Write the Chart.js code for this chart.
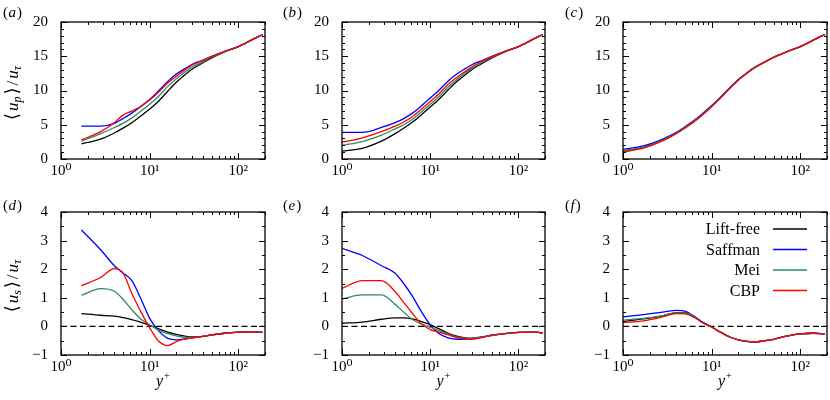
<!DOCTYPE html>
<html><head><meta charset="utf-8">
<script src="https://cdn.jsdelivr.net/npm/chart.js@4.4.1/dist/chart.umd.min.js"></script>
<style>
html,body{margin:0;padding:0;background:#fff;}
#wrap{position:relative;width:830px;height:400px;overflow:hidden;}
.p{position:absolute;}
</style></head><body><div id="wrap"></div>
<script>
// ---------- data ----------
const seriesNames = ['Lift-free', 'Saffman', 'Mei', 'CBP'];
const seriesColors = ['#000000', '#0000ff', '#2e8b57', '#ff0000'];
const yPlusA = [1.7, 2.8, 4, 5, 6.3, 8, 10, 12.5, 16, 20, 25, 30, 40, 50, 70, 100, 140, 170, 188];
const yPlusB = [1, 1.7, 2.8, 4, 5, 6.3, 8, 10, 12.5, 16, 20, 25, 30, 40, 50, 70, 100, 140, 170, 188];
const xTickValues = [1, 10, 100];
const xTickLabels = ['10⁰', '10¹', '10²'];
const upTickValues = [0, 5, 10, 15, 20];
const usTickValues = [-1, 0, 1, 2, 3, 4];
const zeroLine = [0, 0];
const zeroLineX = [1, 200];

// (a) <u_p>/u_tau
const a_lift = [2.2, 2.9, 3.8, 4.5, 5.3, 6.3, 7.3, 8.4, 9.9, 11.2, 12.3, 13.1, 14.05, 14.75, 15.65, 16.4, 17.35, 17.9, 18.15];
const a_saff = [4.8, 4.8, 5.2, 5.9, 6.7, 7.7, 8.7, 9.9, 11.3, 12.4, 13.2, 13.8, 14.45, 15.0, 15.7, 16.4, 17.35, 17.9, 18.15];
const a_mei  = [2.6, 3.7, 4.6, 5.2, 6.0, 7.0, 8.0, 9.1, 10.6, 11.7, 12.7, 13.4, 14.2, 14.85, 15.65, 16.4, 17.35, 17.9, 18.15];
const a_cbp  = [2.8, 4.0, 5.3, 6.4, 7.0, 7.7, 8.6, 9.7, 11.1, 12.1, 13.0, 13.7, 14.4, 14.95, 15.7, 16.4, 17.35, 17.9, 18.15];
// (b)
const b_lift = [1.15, 1.55, 2.6, 3.7, 4.5, 5.4, 6.5, 7.6, 8.7, 10.1, 11.3, 12.3, 13.1, 14.05, 14.75, 15.65, 16.4, 17.35, 17.9, 18.15];
const b_saff = [3.9, 3.9, 4.6, 5.3, 5.9, 6.7, 7.8, 8.9, 10.0, 11.4, 12.4, 13.2, 13.8, 14.45, 15.0, 15.7, 16.4, 17.35, 17.9, 18.15];
const b_mei  = [2.0, 2.55, 3.5, 4.4, 5.0, 5.8, 6.9, 8.0, 9.1, 10.5, 11.6, 12.6, 13.3, 14.2, 14.85, 15.65, 16.4, 17.35, 17.9, 18.15];
const b_cbp  = [2.45, 3.1, 4.0, 4.8, 5.4, 6.2, 7.3, 8.4, 9.5, 10.9, 11.9, 12.8, 13.5, 14.35, 14.95, 15.7, 16.4, 17.35, 17.9, 18.15];
// (c)
const c_lift = [1.15, 1.7, 2.75, 3.8, 4.6, 5.5, 6.6, 7.7, 8.9, 10.35, 11.55, 12.55, 13.3, 14.2, 14.85, 15.65, 16.4, 17.35, 17.9, 18.15];
const c_saff = [1.4, 1.9, 2.9, 3.9, 4.7, 5.6, 6.7, 7.8, 9.0, 10.4, 11.6, 12.6, 13.3, 14.2, 14.85, 15.65, 16.4, 17.35, 17.9, 18.15];
const c_mei  = [1.2, 1.7, 2.75, 3.8, 4.6, 5.5, 6.6, 7.7, 8.9, 10.35, 11.55, 12.55, 13.3, 14.2, 14.85, 15.65, 16.4, 17.35, 17.9, 18.15];
const c_cbp  = [1.03, 1.6, 2.65, 3.7, 4.5, 5.4, 6.5, 7.65, 8.85, 10.3, 11.5, 12.5, 13.25, 14.15, 14.8, 15.65, 16.4, 17.35, 17.9, 18.15];
// (d) <u_s>/u_tau
const d_lift = [0.45, 0.39, 0.36, 0.31, 0.24, 0.14, 0.04, -0.08, -0.2, -0.28, -0.34, -0.37, -0.35, -0.3, -0.24, -0.2, -0.19, -0.2, -0.21];
const d_saff = [3.37, 2.68, 2.12, 1.87, 1.6, 0.95, 0.28, -0.14, -0.42, -0.47, -0.44, -0.4, -0.35, -0.3, -0.24, -0.2, -0.19, -0.2, -0.21];
const d_mei  = [1.09, 1.32, 1.23, 0.95, 0.58, 0.25, 0.06, -0.13, -0.25, -0.33, -0.38, -0.39, -0.35, -0.3, -0.24, -0.2, -0.19, -0.2, -0.21];
const d_cbp  = [1.42, 1.71, 2.02, 1.87, 1.15, 0.5, -0.05, -0.5, -0.67, -0.53, -0.44, -0.4, -0.35, -0.3, -0.24, -0.2, -0.19, -0.2, -0.21];
// (e)
const e_lift = [0.11, 0.15, 0.25, 0.3, 0.3, 0.26, 0.17, 0.06, -0.08, -0.24, -0.34, -0.4, -0.42, -0.37, -0.31, -0.25, -0.21, -0.2, -0.21, -0.23];
const e_saff = [2.73, 2.48, 2.12, 1.86, 1.5, 1.05, 0.5, 0.06, -0.25, -0.4, -0.45, -0.44, -0.41, -0.36, -0.31, -0.25, -0.21, -0.2, -0.21, -0.23];
const e_mei  = [0.96, 1.1, 1.1, 0.77, 0.5, 0.24, 0.08, -0.03, -0.15, -0.27, -0.37, -0.42, -0.42, -0.37, -0.31, -0.25, -0.21, -0.2, -0.21, -0.23];
const e_cbp  = [1.33, 1.6, 1.6, 1.22, 0.84, 0.45, 0.08, -0.11, -0.2, -0.3, -0.39, -0.44, -0.45, -0.38, -0.31, -0.25, -0.21, -0.2, -0.21, -0.23];
// (f)
const f_lift = [0.17, 0.26, 0.37, 0.48, 0.48, 0.35, 0.13, -0.02, -0.2, -0.37, -0.47, -0.52, -0.54, -0.5, -0.45, -0.34, -0.26, -0.24, -0.25, -0.27];
const f_saff = [0.33, 0.41, 0.5, 0.56, 0.53, 0.36, 0.14, -0.02, -0.2, -0.37, -0.47, -0.52, -0.54, -0.5, -0.45, -0.34, -0.26, -0.24, -0.25, -0.27];
const f_mei  = [0.22, 0.28, 0.38, 0.47, 0.47, 0.34, 0.13, -0.02, -0.2, -0.37, -0.47, -0.52, -0.54, -0.5, -0.45, -0.34, -0.26, -0.24, -0.25, -0.27];
const f_cbp  = [0.13, 0.19, 0.33, 0.45, 0.44, 0.32, 0.12, -0.02, -0.2, -0.37, -0.47, -0.52, -0.54, -0.5, -0.45, -0.34, -0.26, -0.24, -0.25, -0.27];

// ---------- layout ----------
const SERIF = "'Liberation Serif','DejaVu Serif',serif";
const cols = [
  {left: 0, width: 277, L: 61, R: 12, letterX: 3},
  {left: 277, width: 277, L: 65, R: 9, letterX: 283},
  {left: 554, width: 276, L: 69, R: 3, letterX: 565}
];
const rows = [
  {top: 0, height: 190, T: 10, B: 31, min: 0, max: 20, major: 5, minor: 1, ticks: upTickValues, letterBase: 17, sub: 'p', titleCy: 93},
  {top: 190, height: 210, T: 16, B: 45, min: -1, max: 4, major: 1, minor: 0.5, ticks: usTickValues, letterBase: 210, sub: 's', titleCy: 286}
];
const panels = [
  {letter: 'a', col: 0, row: 0, xs: yPlusA, ys: [a_lift, a_saff, a_mei, a_cbp]},
  {letter: 'b', col: 1, row: 0, xs: yPlusB, ys: [b_lift, b_saff, b_mei, b_cbp]},
  {letter: 'c', col: 2, row: 0, xs: yPlusB, ys: [c_lift, c_saff, c_mei, c_cbp]},
  {letter: 'd', col: 0, row: 1, xs: yPlusA, ys: [d_lift, d_saff, d_mei, d_cbp]},
  {letter: 'e', col: 1, row: 1, xs: yPlusB, ys: [e_lift, e_saff, e_mei, e_cbp]},
  {letter: 'f', col: 2, row: 1, xs: yPlusB, ys: [f_lift, f_saff, f_mei, f_cbp], legend: true}
];

function drawRich(ctx, segs, x, y, align) {
  let w = 0;
  segs.forEach(s => { ctx.font = s.f; s.w = ctx.measureText(s.t).width; w += s.w + (s.dx || 0); });
  let cx = align === 'center' ? x - w / 2 : (align === 'right' ? x - w : x);
  segs.forEach(s => { ctx.font = s.f; cx += (s.dx || 0); ctx.fillText(s.t, cx, y + (s.dy || 0)); cx += s.w; });
}

const framePlugin = {
  id: 'frame',
  afterDatasetsDraw(chart, args, o) {
    const ctx = chart.ctx, a = chart.chartArea, xs = chart.scales.x, ys = chart.scales.y;
    ctx.save();
    ctx.strokeStyle = '#000';
    ctx.lineWidth = 1;
    ctx.beginPath();
    for (let d = 1; d <= 100; d *= 10) {
      for (let m = 1; m <= 9; m++) {
        const v = d * m; if (v > xs.max) break;
        const px = Math.round(xs.getPixelForValue(v)) + 0.5;
        const len = m === 1 ? 6 : 3;
        ctx.moveTo(px, a.bottom); ctx.lineTo(px, a.bottom - len);
        ctx.moveTo(px, a.top); ctx.lineTo(px, a.top + len);
      }
    }
    for (let k = 0; ys.min + k * o.minor <= ys.max + 1e-9; k++) {
      const v = ys.min + k * o.minor;
      const isMaj = Math.abs(v / o.major - Math.round(v / o.major)) < 1e-6;
      const py = Math.round(ys.getPixelForValue(v)) + 0.5;
      const len = isMaj ? 6 : 3;
      ctx.moveTo(a.left, py); ctx.lineTo(a.left + len, py);
      ctx.moveTo(a.right, py); ctx.lineTo(a.right - len, py);
    }
    ctx.stroke();
    ctx.lineWidth = 1.3;
    ctx.strokeRect(a.left, a.top, a.right - a.left, a.bottom - a.top);
    ctx.restore();
  }
};

const textPlugin = {
  id: 'texts',
  afterDraw(chart, args, o) {
    const ctx = chart.ctx, a = chart.chartArea;
    ctx.save();
    ctx.fillStyle = '#000';
    ctx.textBaseline = 'alphabetic';
    // panel letter
    drawRich(ctx, [
      {t: '(', f: '15px ' + SERIF},
      {t: o.letter, f: 'italic 15px ' + SERIF, dx: 0.5},
      {t: ')', f: '15px ' + SERIF, dx: 1}
    ], o.letterX, o.letterBase, 'left');
    // y title
    if (o.yTitle) {
      ctx.save();
      ctx.translate(18, o.titleCy);
      ctx.rotate(-Math.PI / 2);
      drawRich(ctx, [
        {t: '⟨', f: '18px ' + SERIF},
        {t: 'u', f: 'italic 17px ' + SERIF, dx: 2},
        {t: o.sub, f: 'italic 12px ' + SERIF, dy: 3},
        {t: '⟩', f: '18px ' + SERIF, dx: 2},
        {t: '/', f: '17px ' + SERIF, dx: 2},
        {t: 'u', f: 'italic 17px ' + SERIF, dx: 2},
        {t: 'τ', f: 'italic 12px ' + SERIF, dy: 3}
      ], 0, 0, 'center');
      ctx.restore();
    }
    // x title
    if (o.xTitle) {
      drawRich(ctx, [
        {t: 'y', f: 'italic 16px ' + SERIF},
        {t: '+', f: '11px ' + SERIF, dy: -7, dx: 0.5}
      ], (a.left + a.right) / 2, o.xTitleBase, 'center');
    }
    // legend
    if (o.legend) {
      const ds = chart.data.datasets.filter(d => d.inLegend);
      ds.forEach((d, i) => {
        const ly = o.legendY0 + i * o.legendDy;
        ctx.font = '16px ' + SERIF;
        ctx.textAlign = 'right';
        ctx.fillText(d.label, o.legendTextX, ly + 5);
        ctx.textAlign = 'left';
        ctx.strokeStyle = d.borderColor;
        ctx.lineWidth = 1.4;
        ctx.beginPath();
        ctx.moveTo(o.legendLineX0, ly); ctx.lineTo(o.legendLineX1, ly);
        ctx.stroke();
      });
    }
    ctx.restore();
  }
};

const wrap = document.getElementById('wrap');
panels.forEach(p => {
  const c = cols[p.col], r = rows[p.row];
  const div = document.createElement('div');
  div.className = 'p';
  div.style.left = c.left + 'px'; div.style.top = r.top + 'px';
  div.style.width = c.width + 'px'; div.style.height = r.height + 'px';
  const cv = document.createElement('canvas');
  cv.width = c.width; cv.height = r.height;
  cv.style.width = c.width + 'px'; cv.style.height = r.height + 'px';
  div.appendChild(cv); wrap.appendChild(div);

  const datasets = p.ys.map((ys, i) => ({
    label: seriesNames[i],
    inLegend: true,
    data: p.xs.map((x, k) => ({x: x, y: ys[k]})),
    borderColor: seriesColors[i],
    borderWidth: 1.3,
    pointRadius: 0,
    fill: false,
    cubicInterpolationMode: 'monotone',
    order: 3 - i
  }));
  if (p.row === 1) {
    datasets.push({
      label: 'zero',
      inLegend: false,
      data: zeroLineX.map((x, k) => ({x: x, y: zeroLine[k]})),
      borderColor: '#000',
      borderWidth: 1.1,
      borderDash: [6, 3.5],
      pointRadius: 0,
      fill: false,
      order: 10
    });
  }

  new Chart(cv, {
    type: 'line',
    data: {datasets},
    options: {
      responsive: false,
      maintainAspectRatio: false,
      animation: false,
      devicePixelRatio: 1,
      events: [],
      layout: {padding: {left: 0, right: c.R, top: r.T, bottom: 0}},
      plugins: {
        legend: {display: false},
        tooltip: {enabled: false},
        frame: {major: r.major, minor: r.minor},
        texts: {
          letter: p.letter, letterX: c.letterX - c.left, letterBase: r.letterBase - r.top,
          yTitle: p.col === 0, titleCy: r.titleCy - r.top, sub: r.sub,
          xTitle: p.row === 1, xTitleBase: 386 - r.top,
          legend: !!p.legend, legendY0: 229 - r.top, legendDy: 20.5,
          legendTextX: 760 - c.left, legendLineX0: 773 - c.left, legendLineX1: 807 - c.left
        }
      },
      scales: {
        x: {
          type: 'logarithmic', min: 1, max: 200,
          grid: {display: false, drawTicks: false},
          border: {display: false},
          afterBuildTicks: s => { s.ticks = xTickValues.map(v => ({value: v})); },
          afterFit: s => { s.height = r.B; },
          ticks: {
            padding: 3, maxRotation: 0, minRotation: 0, autoSkip: false, color: '#000',
            font: {family: SERIF, size: 15},
            callback: v => { const i = xTickValues.indexOf(v); return i >= 0 ? xTickLabels[i] : ''; }
          }
        },
        y: {
          type: 'linear', min: r.min, max: r.max,
          grid: {display: false, drawTicks: false},
          border: {display: false},
          afterBuildTicks: s => { s.ticks = r.ticks.map(v => ({value: v})); },
          afterFit: s => { s.width = c.L; },
          ticks: {
            padding: 13, color: '#000',
            font: {family: SERIF, size: 15},
            callback: v => (v < 0 ? '−' + Math.abs(v) : String(v))
          }
        }
      }
    },
    plugins: [framePlugin, textPlugin]
  });
});
</script>
</body></html>
